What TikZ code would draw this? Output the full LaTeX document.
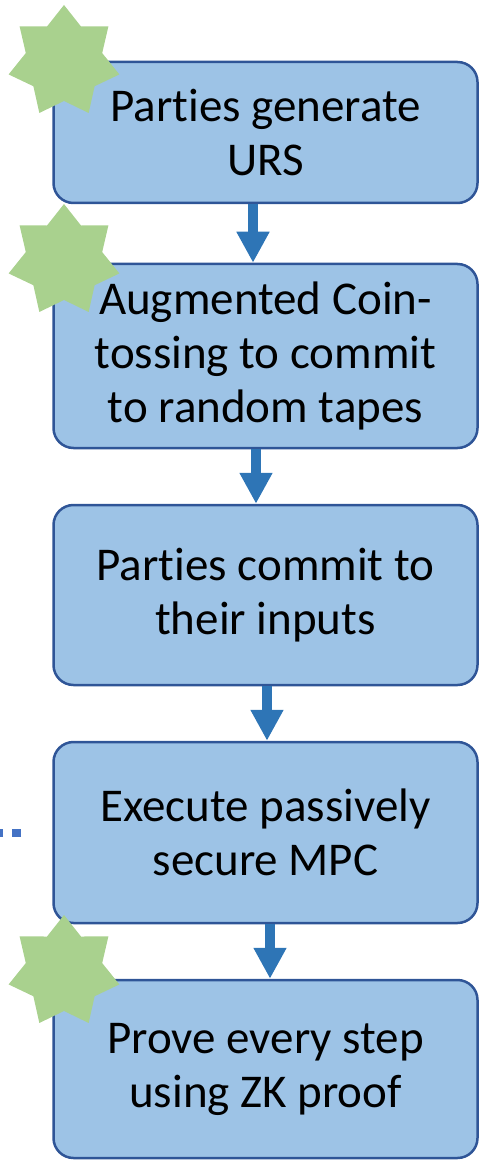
\documentclass[tikz,border=0pt]{standalone}
\usepackage{fontspec}
\setmainfont{Carlito}[Ligatures=NoCommon]
\usetikzlibrary{arrows.meta, shapes.geometric}
\definecolor{boxfill}{HTML}{9DC3E6}
\definecolor{boxline}{HTML}{2F5597}
\definecolor{flowblue}{HTML}{2E75B6}
\definecolor{stargreen}{HTML}{A9D18E}
\definecolor{dotblue}{HTML}{4472C4}

\begin{document}
\begin{tikzpicture}[x=0.5pt, y=-0.5pt,
    stepbox/.style={draw=boxline, line width=1.25pt, fill=boxfill, rounded corners=10pt,
        minimum width=212pt, align=center, font=\fontsize{23.5}{27}\selectfont},
    badge/.style={star, star points=7, star point ratio=1.45, fill=stargreen,
        inner sep=0pt, minimum size=56.8pt},
    flow/.style={draw=flowblue, line width=5pt, -{Triangle[width=15.5pt, length=15.5pt]}}]
    \useasboundingbox (0,0) rectangle (478,1160);

    \node[stepbox, minimum height=70.5pt] (urs) at (265.5,132.5) {Parties generate\\URS};
    \node[stepbox, minimum height=92pt] (coin) at (265.5,356) {Augmented Coin-\\tossing to commit\\to random tapes};
    \node[stepbox, minimum height=90pt] (inputs) at (265.5,595) {Parties commit to\\their inputs};
    \node[stepbox, minimum height=90.5pt] (mpc) at (265.5,832.5) {Execute passively\\secure MPC};
    \node[stepbox, minimum height=89pt] (zk) at (265.5,1069) {Prove every step\\using ZK proof};

    % marked steps
    \node[badge] (star1) at (64,61.8) {};
    \node[badge] (star2) at (64,260.8) {};
    \node[badge] (star3) at (64,971.8) {};

    \draw[flow] ([xshift=-6.25pt]urs.south) -- ([xshift=-6.25pt]coin.north);
    \draw[flow] ([xshift=-4.75pt]coin.south) -- ([xshift=-4.75pt]inputs.north);
    \draw[flow] ([xshift=0.75pt]inputs.south) -- ([xshift=0.75pt]mpc.north);
    \draw[flow] ([xshift=2.25pt]mpc.south) -- ([xshift=2.25pt]zk.north);

    % cut-off dotted link
    \coordinate (dotend) at (21,833);
    \coordinate (dotstart) at (-6,833);
    \draw[dotblue, line width=4pt, dash pattern=on 4.5pt off 4.5pt] (dotend) -- (dotstart);
\end{tikzpicture}
\end{document}
